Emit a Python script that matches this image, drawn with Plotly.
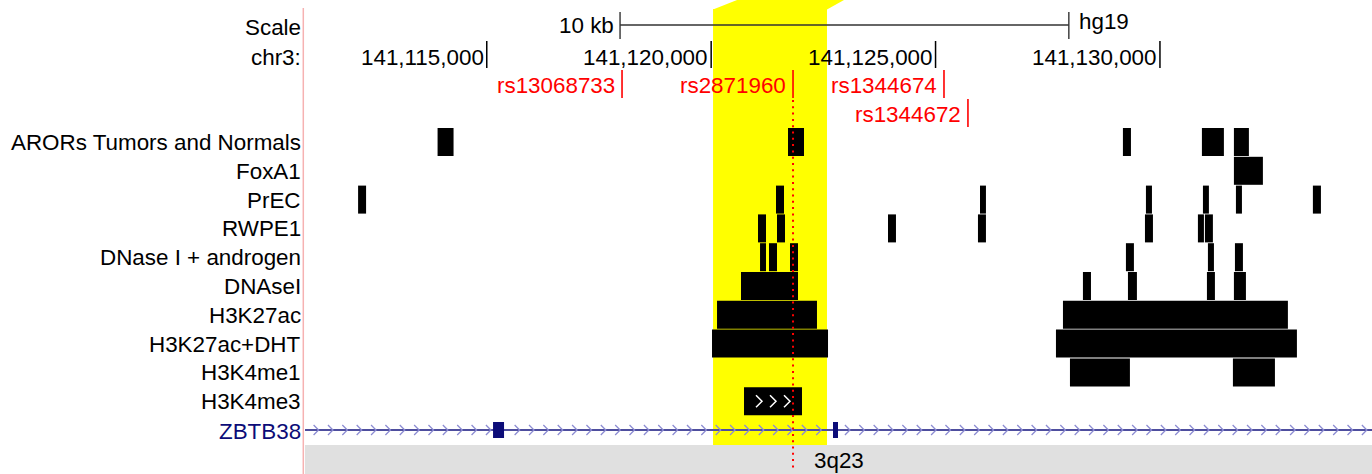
import plotly.graph_objects as go

# ---------------------------------------------------------------- data
chrom = "chr3"
assembly = "hg19"
view_start = 141110950
view_end = 141134725

coord_ticks = [141115000, 141120000, 141125000, 141130000]
scale_bar_start = 141117970
scale_bar_bp = 10000
scale_bar_label = "10 kb"

snp_names = ["rs13068733", "rs2871960", "rs1344674", "rs1344672"]
snp_pos = [141118014, 141121824, 141125188, 141125722]
focus_snp = "rs2871960"

highlight_start = 141120042
highlight_end = 141122581

arors_starts = [141113904, 141121712, 141129175, 141130935, 141131648]
arors_ends = [141114260, 141122069, 141129354, 141131425, 141131982]
foxa1_starts = [141131648]
foxa1_ends = [141132294]
prec_starts = [141112133, 141121445, 141125990, 141129688, 141130958, 141131693, 141133408]
prec_ends = [141112311, 141121623, 141126123, 141129822, 141131091, 141131827, 141133587]
rwpe1_starts = [141121044, 141121467, 141123940, 141125945, 141129666, 141130846, 141131002]
rwpe1_ends = [141121222, 141121646, 141124118, 141126123, 141129844, 141130980, 141131180]
dnase_andr_starts = [141121089, 141121289, 141121757, 141129242, 141131069, 141131671]
dnase_andr_ends = [141121222, 141121467, 141121935, 141129420, 141131203, 141131849]
dnasei_starts = [141120665, 141128284, 141129287, 141131047, 141131648]
dnasei_ends = [141121935, 141128463, 141129487, 141131225, 141131916]
h3k27ac_starts = [141120131, 141127839]
h3k27ac_ends = [141122358, 141132851]
h3k27ac_dht_starts = [141120019, 141127683]
h3k27ac_dht_ends = [141122604, 141133052]
h3k4me1_starts = [141127995, 141131626]
h3k4me1_ends = [141129331, 141132562]
h3k4me3_starts = [141120732]
h3k4me3_ends = [141122024]

tracks = [
    ("ARORs Tumors and Normals", arors_starts, arors_ends, False),
    ("FoxA1", foxa1_starts, foxa1_ends, False),
    ("PrEC", prec_starts, prec_ends, False),
    ("RWPE1", rwpe1_starts, rwpe1_ends, False),
    ("DNase I + androgen", dnase_andr_starts, dnase_andr_ends, False),
    ("DNAseI", dnasei_starts, dnasei_ends, False),
    ("H3K27ac", h3k27ac_starts, h3k27ac_ends, False),
    ("H3K27ac+DHT", h3k27ac_dht_starts, h3k27ac_dht_ends, False),
    ("H3K4me1", h3k4me1_starts, h3k4me1_ends, False),
    ("H3K4me3", h3k4me3_starts, h3k4me3_ends, True),  # stranded (+) feature
]

gene_name = "ZBTB38"
gene_tx_start = 141043055
gene_tx_end = 141168632
gene_exon_starts = [141115140, 141122715]
gene_exon_ends = [141115385, 141122826]

band_name = "3q23"
band_start = 139700000
band_end = 142800000

# ---------------------------------------------------------------- layout constants
W, H = 1372, 474
PANEL_X0 = 305                      # left edge of the track panel (px)
bpp = (view_end - view_start) / (W - PANEL_X0)   # bases per pixel

FONT = "Liberation Sans, Arial, Helvetica, sans-serif"
FS = 22.4
LABEL_X = 302.5 / W                 # right edge of the track-name column (paper)

ROW_Y0 = 128                        # top of first feature row (px)
ROW_STEP = 28.8
BAR_H = 28
GENE_Y = 430
BAND_Y0, BAND_Y1 = 445, 474
SNP_LANE_Y0 = 70
SNP_LANE_H = 29

RED = "#ff0000"
GENE_COLOR = "#0c0c78"


def px(n):
    """pixels -> bases"""
    return n * bpp


fig = go.Figure()
shapes = []
annotations = []


def text(x, y, s, xref="x", xanchor="right", color="black"):
    annotations.append(dict(
        x=x, y=y, xref=xref, yref="y", text=s, showarrow=False,
        xanchor=xanchor, yanchor="middle",
        font=dict(family=FONT, size=FS, color=color)))


def add_lines(xs, ys, color, width, dash="solid"):
    fig.add_trace(go.Scatter(x=xs, y=ys, mode="lines", hoverinfo="skip",
                             line=dict(color=color, width=width, dash=dash)))


def chevrons(centers, yc, hw, hh, color, width):
    xs, ys = [], []
    for c in centers:
        xs += [c - px(hw), c + px(hw), c - px(hw), None]
        ys += [yc - hh, yc, yc + hh, None]
    add_lines(xs, ys, color, width)


# ---- highlighted region (yellow) with its taper towards the top edge
shapes.append(dict(type="rect", xref="x", yref="y", layer="below",
                   x0=highlight_start, x1=highlight_end, y0=9, y1=BAND_Y0,
                   fillcolor="#ffff00", line=dict(width=0)))
shapes.append(dict(type="path", xref="x", yref="y", layer="below",
                   path=(f"M {highlight_start},9.5 L {highlight_start + px(24)},0 "
                         f"L {highlight_end + px(17)},0 L {highlight_end},9.5 Z"),
                   fillcolor="#ffff00", line=dict(width=0)))

# ---- cytoband strip
shapes.append(dict(type="rect", xref="x", yref="y", layer="below",
                   x0=max(band_start, view_start), x1=min(band_end, view_end),
                   y0=BAND_Y0, y1=BAND_Y1, fillcolor="#e0e0e0", line=dict(width=0)))
band_mid = (max(band_start, view_start) + min(band_end, view_end)) / 2
text(band_mid, 460, band_name, xanchor="center")

# ---- pink separator between name column and tracks
shapes.append(dict(type="line", xref="paper", yref="y",
                   x0=303.3 / W, x1=303.3 / W, y0=8, y1=H,
                   line=dict(color="#f6b2b2", width=1.5)))

# ---- scale bar
sb_end = scale_bar_start + scale_bar_bp
add_lines([scale_bar_start, sb_end, None, scale_bar_start, scale_bar_start, None, sb_end, sb_end],
          [25, 25, None, 12, 39, None, 12, 39], "#333333", 1.4)
text(scale_bar_start - px(4), 25, scale_bar_label)
text(sb_end + px(8), 21, assembly, xanchor="left")
text(LABEL_X, 27, "Scale", xref="paper")

# ---- coordinate ruler
tx, ty = [], []
for t in coord_ticks:
    tx += [t, t, None]
    ty += [41, 68, None]
    text(t - px(1), 57, f"{t:,}")
add_lines(tx, ty, "black", 1.5)
text(LABEL_X, 57, f"{chrom}:", xref="paper")

# ---- SNP labels, packed into lanes
lane_ends = []
sx, sy = [], []
order = sorted(range(len(snp_pos)), key=lambda i: snp_pos[i])
for i in order:
    name, pos = snp_names[i], snp_pos[i]
    left = pos - px(6 + 0.55 * FS * len(name))
    lane = 0
    while lane < len(lane_ends) and left <= lane_ends[lane]:
        lane += 1
    if lane == len(lane_ends):
        lane_ends.append(pos)
    else:
        lane_ends[lane] = pos
    y0 = SNP_LANE_Y0 + lane * SNP_LANE_H
    sx += [pos, pos, None]
    sy += [y0, y0 + 28, None]
    text(pos - px(5), y0 + 15, name, color=RED)
add_lines(sx, sy, RED, 1.6)

# ---- feature tracks
for r, (name, starts, ends, stranded) in enumerate(tracks):
    yc = ROW_Y0 + r * ROW_STEP + BAR_H / 2
    fig.add_trace(go.Bar(
        orientation="h", y=[yc] * len(starts),
        x=[e - s for s, e in zip(starts, ends)], base=starts,
        width=BAR_H, marker=dict(color="black", line=dict(width=0)),
        hoverinfo="skip"))
    text(LABEL_X, yc + 0.5, name, xref="paper")
    if stranded:
        for s, e in zip(starts, ends):
            n = int((e - s) / px(14)) - 1
            mid = (s + e) / 2
            centers = [mid + px(14) * (k - (n - 1) / 2) for k in range(n)]
            chevrons(centers, yc, 3, 6, "white", 1.5)

# ---- gene model
shapes.append(dict(type="line", xref="x", yref="y", layer="below",
                   x0=max(gene_tx_start, view_start), x1=min(gene_tx_end, view_end),
                   y0=GENE_Y, y1=GENE_Y, line=dict(color="#4e4e9e", width=2)))
fig.add_trace(go.Bar(
    orientation="h", y=[GENE_Y] * len(gene_exon_starts),
    x=[e - s for s, e in zip(gene_exon_starts, gene_exon_ends)], base=gene_exon_starts,
    width=16, marker=dict(color=GENE_COLOR, line=dict(width=0)), hoverinfo="skip"))
chev = []
k = 0
while True:
    left = view_start + px(8.6 + 14.36 * k)
    if left > view_end:
        break
    tip = left + px(5)
    if not any(left < e + px(1) and tip > s - px(1)
               for s, e in zip(gene_exon_starts, gene_exon_ends)):
        chev.append(left + px(2.5))
    k += 1
chevrons(chev, GENE_Y, 2.5, 5, "#8c8cd2", 1.3)
text(LABEL_X, GENE_Y + 1, gene_name, xref="paper", color=GENE_COLOR)

# ---- focus SNP guide
fpos = snp_pos[snp_names.index(focus_snp)]
add_lines([fpos, fpos], [100, 470], RED, 2, dash="2px,4.3px")

fig.update_layout(
    width=W, height=H, margin=dict(l=0, r=0, t=0, b=0),
    paper_bgcolor="white", plot_bgcolor="white",
    showlegend=False, barmode="overlay",
    xaxis=dict(range=[view_start, view_end], domain=[PANEL_X0 / W, 1],
               visible=False, fixedrange=True),
    yaxis=dict(range=[H, 0], domain=[0, 1], visible=False, fixedrange=True),
    shapes=shapes, annotations=annotations,
)

fig.write_html("out.html", config={"displayModeBar": False})
